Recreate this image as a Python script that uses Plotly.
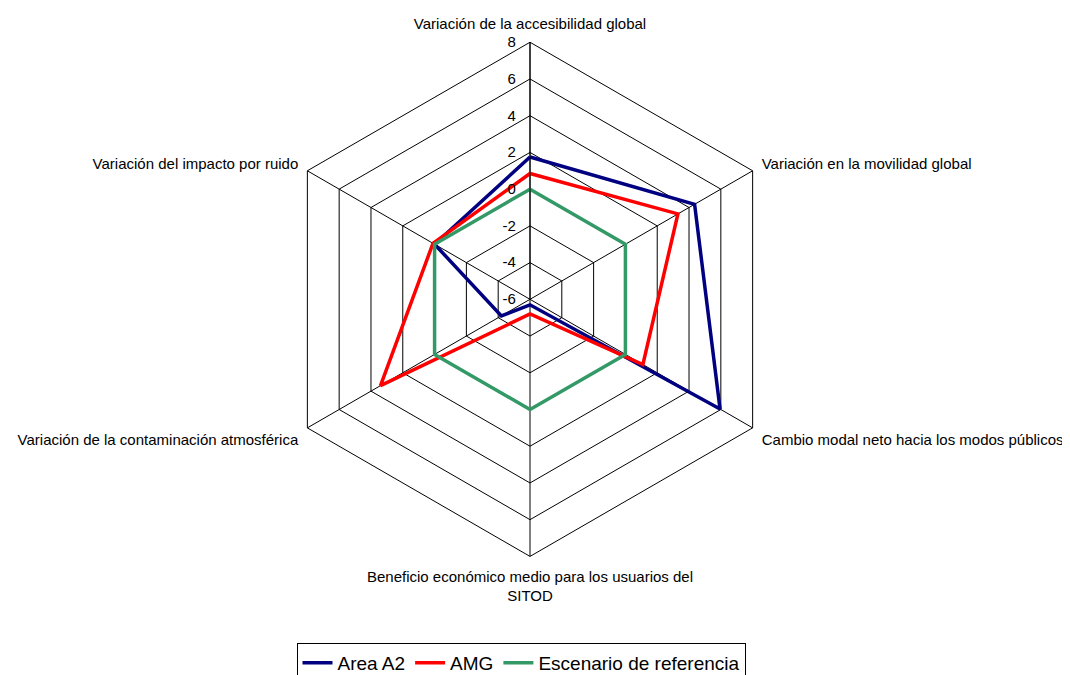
import plotly.graph_objects as go

categories = [
    "Variación de la accesibilidad global",
    "Variación en la movilidad global",
    "Cambio modal neto hacia los modos públicos",
    "Beneficio económico medio para los usuarios del<br>SITOD",
    "Variación de la contaminación atmosférica",
    "Variación del impacto por ruido",
]
area_a2 = [1.75, 4.35, 5.95, -5.7, -4.2, 0.0]
amg = [0.85, 3.3, 1.1, -5.2, 3.4, 0.1]
referencia = [0, 0, 0, 0, 0, 0]
radial_ticks = [8, 6, 4, 2, 0, -2, -4, -6]

series = [
    ("Area A2", area_a2, "#000080"),
    ("AMG", amg, "#FF0000"),
    ("Escenario de referencia", referencia, "#339966"),
]

W, H = 1070, 675
# page body has an 8px margin; compensate in figure coordinates
cx, cy, R = 530 - 8, 301.5 - 8, 259

fig = go.Figure()
for name, vals, color in series:
    fig.add_trace(go.Scatterpolar(
        r=vals + vals[:1],
        theta=categories + categories[:1],
        mode="lines",
        name=name,
        line=dict(color=color, width=3.5),
    ))

fig.update_layout(
    width=W,
    height=H,
    margin=dict(l=0, r=0, t=0, b=0),
    paper_bgcolor="white",
    plot_bgcolor="white",
    font=dict(family="Liberation Sans, Arial, sans-serif", size=15, color="black"),
    polar=dict(
        domain=dict(x=[(cx - R) / W, (cx + R) / W],
                    y=[1 - (cy + R) / H, 1 - (cy - R) / H]),
        bgcolor="white",
        gridshape="linear",
        angularaxis=dict(
            rotation=90,
            direction="clockwise",
            showline=True,
            linecolor="black",
            linewidth=1,
            gridcolor="black",
            gridwidth=1,
            ticks="outside",
            ticklen=7,
            tickcolor="rgba(0,0,0,0)",
            tickfont=dict(size=15),
        ),
        radialaxis=dict(
            range=[-6, 8],
            tickvals=radial_ticks,
            ticktext=[str(v) + "\u00a0\u00a0" for v in radial_ticks],
            angle=90,
            tickangle=90,
            showline=True,
            linecolor="black",
            linewidth=1,
            gridcolor="black",
            gridwidth=1,
            ticks="",
            tickfont=dict(size=15),
            side="counterclockwise",
        ),
    ),
    legend=dict(
        orientation="h",
        x=513 / W,
        xanchor="center",
        y=1 - 640 / H,
        yanchor="top",
        bordercolor="black",
        borderwidth=1,
        font=dict(size=19),
        itemwidth=30,
    ),
    showlegend=True,
)

fig.write_html("out.html")
